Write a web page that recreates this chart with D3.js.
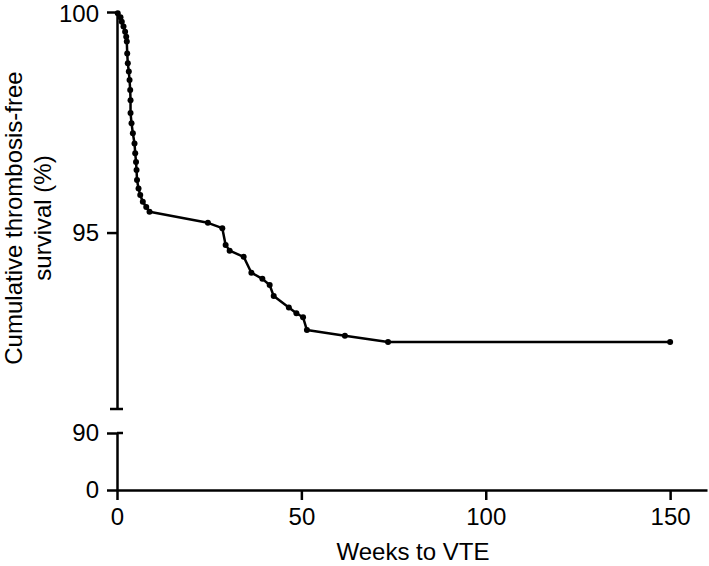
<!DOCTYPE html>
<html>
<head>
<meta charset="utf-8">
<script src="https://cdn.jsdelivr.net/npm/d3@7"></script>
<style>
  body { margin: 0; background: #fff; }
  svg { display: block; }
  text { font-family: "Liberation Sans", Arial, sans-serif; fill: #000; }
</style>
</head>
<body>
<svg id="chart" width="709" height="566"></svg>
<script>
// weeks to VTE and cumulative thrombosis-free survival (%)
const weeks = [
  0, 0.2, 0.95, 1.3, 1.76, 2.2, 2.5, 2.66, 2.77, 2.93, 3.2, 3.4, 3.58, 3.67, 3.67,
  3.94, 4.3, 4.75, 4.94, 5.16, 5.3, 5.43, 5.84, 6.3, 7.0, 7.93, 8.82,
  24.65, 28.56, 29.46, 30.55, 34.35, 36.44, 39.42, 41.4, 42.5, 46.6, 48.65, 50.45, 51.5,
  61.8, 73.5, 150
];
const survival = [
  100, 99.97, 99.88, 99.78, 99.67, 99.55, 99.44, 99.33, 99.06, 98.84, 98.65, 98.46, 98.23, 98.0, 97.71,
  97.48, 97.25, 97.02, 96.8, 96.6, 96.42, 96.19, 96.0, 95.85, 95.7, 95.58, 95.47,
  95.22, 95.10, 94.72, 94.59, 94.45, 94.09, 93.95, 93.81, 93.56, 93.30, 93.17, 93.08, 92.79,
  92.66, 92.52, 92.52
];
const xTicks = [0, 50, 100, 150];
const yTicksTop = [100, 95];
const yTicksBottom = [90, 0];

const points = weeks.map((w, i) => ({ w, s: survival[i] }));

const svg = d3.select('#chart');
const x0 = 117;

const x = d3.scaleLinear().domain([0, 160]).range([x0, 707]);
// broken y axis: 91-100 on top, 0-90 squeezed below
const yTop = d3.scaleLinear().domain([91, 100]).range([409, 12]);
const yBottom = d3.scaleLinear().domain([0, 90]).range([490, 433]);

const fontSize = 24;

function styleAxis (g) {
  g.selectAll('path, line').attr('stroke', '#000').attr('stroke-width', 2.5);
  g.selectAll('text')
    .style('font-size', fontSize + 'px')
    .style('font-family', '"Liberation Sans", Arial, sans-serif')
    .attr('fill', '#000');
}

svg.append('g')
  .attr('transform', `translate(0, ${yBottom(0)})`)
  .call(d3.axisBottom(x).tickValues(xTicks).tickSize(10).tickSizeOuter(0).tickPadding(8))
  .call(styleAxis);

const topAxis = svg.append('g')
  .attr('transform', `translate(${x0}, 0)`)
  .call(d3.axisLeft(yTop).tickValues(yTicksTop).tickSize(10).tickSizeOuter(0).tickPadding(8))
  .call(styleAxis);
// keep the "100" label inside the picture
topAxis.selectAll('.tick text').filter(d => d === 100).attr('dy', '0.4em');

svg.append('g')
  .attr('transform', `translate(${x0}, 0)`)
  .call(d3.axisLeft(yBottom).tickValues(yTicksBottom).tickSize(10).tickSizeOuter(0).tickPadding(8))
  .call(styleAxis);

// caps at the axis break
svg.append('line')
  .attr('x1', x0 - 7).attr('x2', x0 + 6)
  .attr('y1', yTop(91)).attr('y2', yTop(91))
  .attr('stroke', '#000').attr('stroke-width', 2.5);
svg.append('line')
  .attr('x1', x0).attr('x2', x0 + 6)
  .attr('y1', yBottom(90)).attr('y2', yBottom(90))
  .attr('stroke', '#000').attr('stroke-width', 2.5);

const line = d3.line()
  .x(d => x(d.w))
  .y(d => yTop(d.s));

svg.append('path')
  .datum(points)
  .attr('fill', 'none')
  .attr('stroke', '#000')
  .attr('stroke-width', 2.5)
  .attr('stroke-linejoin', 'round')
  .attr('d', line);

svg.selectAll('.dot')
  .data(points.slice(1))
  .enter()
  .append('circle')
  .attr('class', 'dot')
  .attr('cx', d => x(d.w))
  .attr('cy', d => yTop(d.s))
  .attr('r', 3)
  .attr('fill', '#000');

svg.append('text')
  .attr('x', 413)
  .attr('y', 560)
  .attr('text-anchor', 'middle')
  .style('font-size', fontSize + 'px')
  .text('Weeks to VTE');

const yTitle = svg.append('text')
  .attr('transform', 'translate(0, 218) rotate(-90)')
  .attr('text-anchor', 'middle')
  .style('font-size', fontSize + 'px');
yTitle.append('tspan').attr('x', 0).attr('y', 22).text('Cumulative thrombosis-free');
yTitle.append('tspan').attr('x', 0).attr('y', 51).text('survival (%)');
</script>
</body>
</html>
